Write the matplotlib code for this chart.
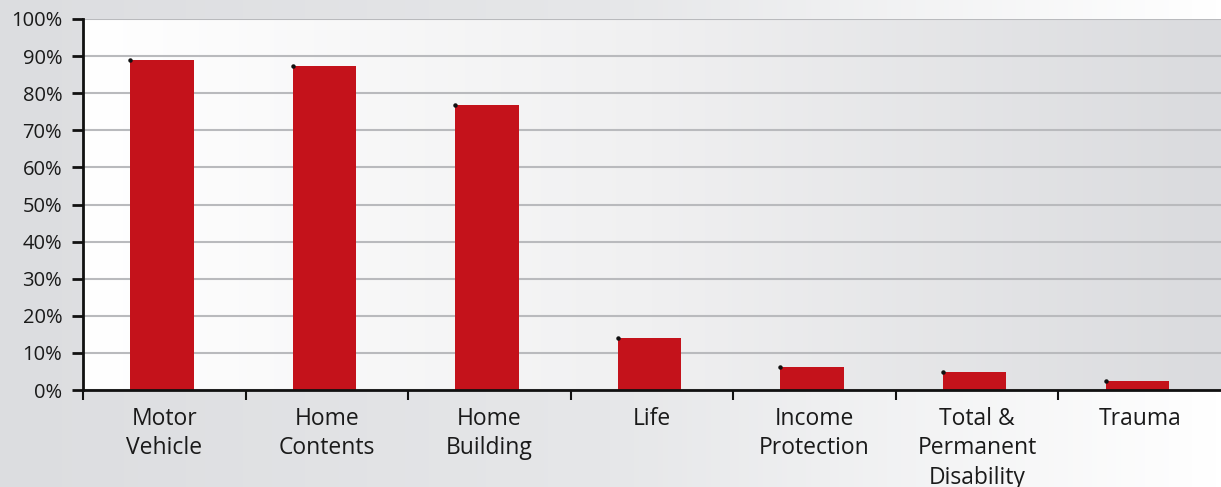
import numpy as np
import matplotlib
matplotlib.use("Agg")
import matplotlib.pyplot as plt
from matplotlib.colors import LinearSegmentedColormap

categories = ["Motor\nVehicle", "Home\nContents", "Home\nBuilding", "Life",
              "Income\nProtection", "Total &\nPermanent\nDisability", "Trauma"]
values = [88.9, 87.3, 76.8, 14.0, 6.2, 4.9, 2.4]
yticks = [0, 10, 20, 30, 40, 50, 60, 70, 80, 90, 100]
ytick_labels = [f"{v}%" for v in yticks]

plt.rcParams['font.family'] = ['Open Sans', 'DejaVu Sans']

fig = plt.figure(figsize=(12.21, 4.87), dpi=100)

# figure background gradient (gray left -> white right)
bg = fig.add_axes([0, 0, 1, 1], zorder=-2)
grad = np.linspace(0, 1, 256).reshape(1, -1)
cm_bg = LinearSegmentedColormap.from_list("bg", ["#dcdde0", "#e6e7e9", "#ffffff"])
bg.imshow(grad, aspect="auto", cmap=cm_bg, extent=[0, 1, 0, 1])
bg.set_axis_off()

ax = fig.add_axes([83/1221, 1-390/487, 1-83/1221, (390-19)/487])
ax.set_xlim(-0.5, 6.5)
ax.set_ylim(0, 100)
cm_ax = LinearSegmentedColormap.from_list("ax", ["#ffffff", "#f0f0f1", "#dadbde"])
ax.imshow(grad, aspect="auto", cmap=cm_ax, extent=[-0.5, 6.5, 0, 100], zorder=0)

ax.set_yticks(yticks)
ax.set_yticklabels(ytick_labels)
ax.grid(axis="y", color="#b9babd", linewidth=1.5, zorder=1)

x = np.arange(len(categories))
width = 0.39
ax.bar(x - 0.015, values, width=width, color="#c4121b", zorder=3)
ax.plot(x - 0.015 - width / 2, values, linestyle="none", marker="o", markersize=2.2,
        color="#111111", zorder=4)

ax.set_xticks(x)
ax.set_xticklabels(categories, fontsize=16.5, color="#1a1a1a", linespacing=1.32,
                   va="top")
ax.set_xticks(np.arange(-0.5, 6.5, 1.0), minor=True)
ax.tick_params(axis="x", which="major", length=0, pad=12)
ax.tick_params(axis="x", which="minor", length=7, width=1.5, direction="out",
               color="#111111")
ax.tick_params(axis="y", length=8, width=2, direction="out", labelsize=14.5,
               labelcolor="#1a1a1a", color="#111111", pad=7)

for s in ["top", "right"]:
    ax.spines[s].set_visible(False)
for s in ["left", "bottom"]:
    ax.spines[s].set_linewidth(2)
    ax.spines[s].set_color("#111111")
    ax.spines[s].set_zorder(5)

fig.savefig("out.png", dpi=100)
